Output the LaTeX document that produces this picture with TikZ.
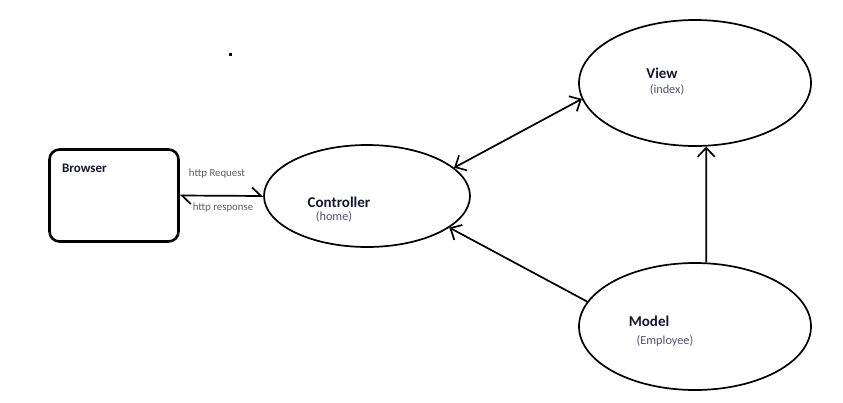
\documentclass[tikz,border=0pt]{standalone}
\usepackage{fontspec}
\setmainfont{Carlito}
\usetikzlibrary{shapes.geometric,arrows.meta}
\definecolor{titlec}{HTML}{15152E}
\definecolor{subc}{HTML}{4F5275}
\definecolor{httpc}{HTML}{5A5C66}
\begin{document}
\begin{tikzpicture}[x=1pt,y=-1pt,
  ell/.style={draw,ellipse,line width=1.7pt,inner sep=0pt},
  ttl/.style={font=\bfseries\fontsize{15}{17}\selectfont,text=titlec,inner sep=0pt},
  sub/.style={font=\fontsize{12.3}{14}\selectfont,text=subc,inner sep=0pt},
  httplab/.style={font=\fontsize{10.8}{12}\selectfont,text=httpc,inner sep=0pt},
  conn/.style={line width=1.7pt},
  tipb/.tip={Straight Barb[length=9pt,width=17pt,line width=1.7pt]},
  tiph/.tip={Straight Barb[length=9pt,width=17pt,line width=1.7pt,harpoon]}]
\useasboundingbox (0,0) rectangle (843,402);
% stray dot
\fill (228.5,52.5) rectangle (231.5,55.5);
% shapes
\node[draw,rounded corners=10pt,line width=2.6pt,minimum width=129pt,minimum height=92pt,inner sep=0pt] (browser) at (114,195.5) {};
\node[ell,minimum width=206pt,minimum height=102pt] (ctrl) at (367,196) {};
\node[ell,minimum width=232pt,minimum height=126pt] (view) at (695,83) {};
\node[ell,minimum width=232pt,minimum height=127pt] (model) at (695,326.5) {};
% texts
\node[ttl,font=\bfseries\fontsize{13}{15}\selectfont] (tbrowser) at (84.5,168) {Browser};
\node[ttl] (tctrl) at (339,202) {Controller};
\node[sub] (thome) at (334,217) {(home)};
\node[ttl] (tview) at (662,73) {View};
\node[sub] (tindex) at (667,90) {(index)};
\node[ttl] (tmodel) at (649,321) {Model};
\node[sub] (temp) at (665,341) {(Employee)};
\node[httplab] (treq) at (217,174) {http Request};
\node[httplab] (tresp) at (223,208) {http response};
% connectors
\draw[conn,{tiph}-{tiph}] (browser.east) -- (ctrl.west);
\draw[conn,{tipb}-{tipb}] (ctrl.18) -- (view.188.6);
\draw[conn,-{tipb}] (model.167) -- (ctrl.-21);
\draw[conn,-{tipb}] (model.80) -- (view.-80);
\end{tikzpicture}
\end{document}
